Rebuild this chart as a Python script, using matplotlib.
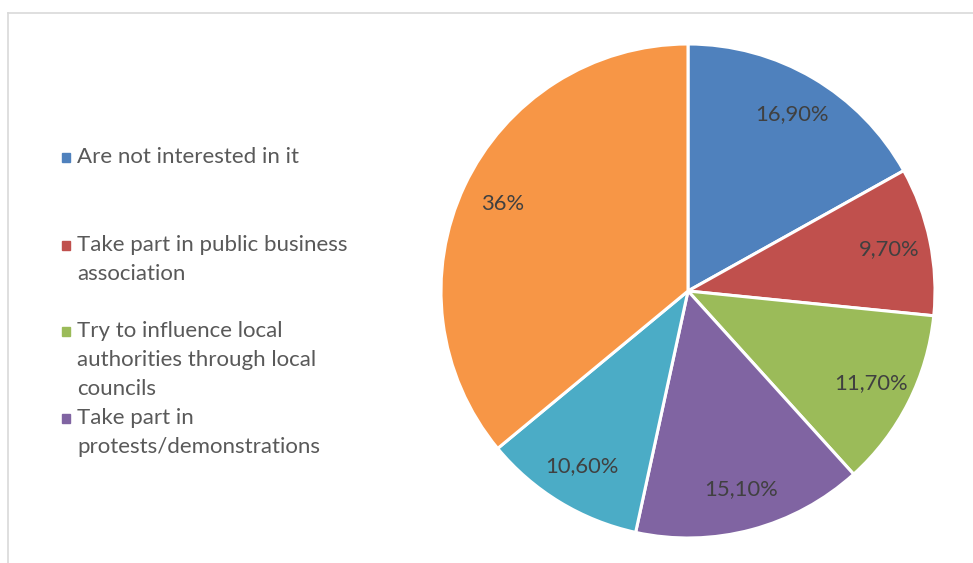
import numpy as np
import matplotlib
matplotlib.use("Agg")
import matplotlib.pyplot as plt
from matplotlib.patches import Rectangle
from matplotlib.lines import Line2D

# =========================
# DATA
# =========================
shares = [16.9, 9.7, 11.7, 15.1, 10.6, 36.0]
share_labels = ["16,90%", "9,70%", "11,70%", "15,10%", "10,60%", "36%"]
colors = ["#4f81bd", "#c0504d", "#9bbb59", "#8064a2", "#4bacc6", "#f79646"]

legend_labels = [
    "Are not interested in it",
    "Take part in public business\nassociation",
    "Try to influence local\nauthorities through local\ncouncils",
    "Take part in\nprotests/demonstrations",
]
# top line of each legend entry, in pixels from the top
legend_tops = [157, 245, 331, 418]

W, H = 973, 563
plt.rcParams["font.family"] = ["Lato", "DejaVu Sans"]

fig = plt.figure(figsize=(W / 100, H / 100), dpi=100)

# thin chart-area border
fig.add_artist(Line2D([8 / W, 8 / W], [0, 1 - 12.5 / H], color="#d9d9d9", lw=1.2,
                      transform=fig.transFigure))
fig.add_artist(Line2D([8 / W, 1], [1 - 12.5 / H, 1 - 12.5 / H], color="#d9d9d9", lw=1.2,
                      transform=fig.transFigure))

# =========================
# PIE
# =========================
cx, cy, r = 688, 291, 247
ax = fig.add_axes([(cx - r) / W, (H - cy - r) / H, 2 * r / W, 2 * r / H])
wedges, _ = ax.pie(shares, colors=colors, startangle=90, counterclock=False,
                   radius=1, wedgeprops=dict(edgecolor="white", linewidth=2.2))
ax.set_xlim(-1, 1)
ax.set_ylim(-1, 1)
ax.set_aspect("equal")
ax.axis("off")

for w, lab in zip(wedges, share_labels):
    mid = np.deg2rad((w.theta1 + w.theta2) / 2)
    ax.text(0.83 * np.cos(mid), 0.83 * np.sin(mid), lab, ha="center", va="center",
            fontsize=15.8, color="#404040")

# =========================
# LEGEND
# =========================
line_h = 29
for lab, top, col in zip(legend_labels, legend_tops, colors):
    fig.add_artist(Rectangle((62 / W, 1 - (top + 4.5) / H), 8 / W, 9 / H,
                             color=col, transform=fig.transFigure))
    for i, part in enumerate(lab.split("\n")):
        fig.text(77 / W, 1 - (top + i * line_h) / H, part, ha="left", va="center",
                 fontsize=16, color="#595959")

fig.savefig("out.png", dpi=100)
